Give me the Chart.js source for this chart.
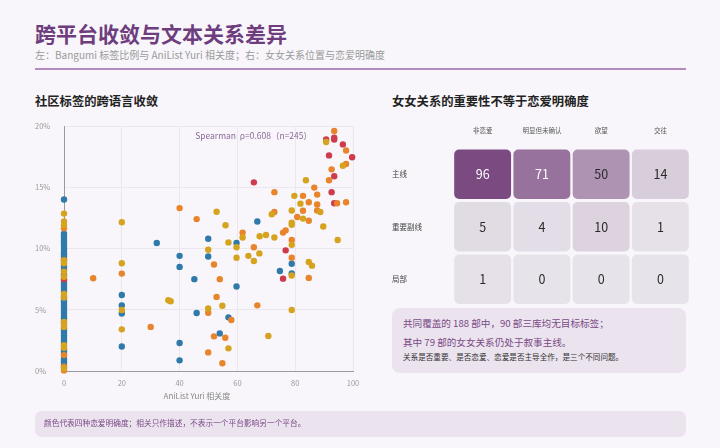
<!DOCTYPE html>
<html lang="zh">
<head>
<meta charset="utf-8">
<script src="https://cdn.jsdelivr.net/npm/chart.js@4.4.1/dist/chart.umd.min.js"></script>
<style>
  body { margin: 0; background: #f8f6fa; font-family: "Noto Sans CJK SC", "Noto Sans", sans-serif; }
  #page { position: relative; width: 720px; height: 448px; overflow: hidden; }
  .abs { position: absolute; white-space: nowrap; }
  #title { left: 35px; top: 20px; font-size: 21px; line-height: 26px; font-weight: 700; color: #6e3d7e; }
  #subtitle { left: 35px; top: 48px; font-size: 10px; line-height: 14px; color: #9a9a9a; }
  #rule { left: 35px; top: 68px; width: 651px; height: 1.5px; background: #b48cc0; }
  .section { top: 93px; font-size: 12.3px; line-height: 16px; font-weight: 700; color: #222; }
  #scatterBox { left: 30px; top: 118px; width: 340px; height: 292px; }
  #xTitle { left: 137px; top: 390px; width: 120px; text-align: center; font-size: 8px; line-height: 12px; color: #888; }
  #heatBox { left: 385px; top: 115px; width: 305px; height: 195px; }
  #note { left: 392px; top: 308px; width: 294px; height: 65px; background: #ebe3ee; border-radius: 8px; }
  #note div { position: absolute; left: 11px; white-space: nowrap; }
  #footer { left: 35px; top: 411px; width: 651px; height: 26px; background: #ebe3ee; border-radius: 7px; }
  #footer span { position: absolute; left: 9px; top: 6px; font-size: 7.7px; line-height: 12px; color: #7a4a86; }
</style>
</head>
<body>
<div id="page">
  <div id="title" class="abs">跨平台收敛与文本关系差异</div>
  <div id="subtitle" class="abs">左：Bangumi 标签比例与 AniList Yuri 相关度；右：女女关系位置与恋爱明确度</div>
  <div id="rule" class="abs"></div>
  <div class="abs section" style="left:35px">社区标签的跨语言收敛</div>
  <div class="abs section" style="left:392px">女女关系的重要性不等于恋爱明确度</div>
  <div id="scatterBox" class="abs"><canvas id="scatter"></canvas></div>
  <div id="xTitle" class="abs">AniList Yuri 相关度</div>
  <div id="heatBox" class="abs"><canvas id="heat"></canvas></div>
  <div id="note" class="abs">
    <div style="top:8px;font-size:9.6px;line-height:14px;color:#7a4a86">共同覆盖的 188 部中，90 部三库均无目标标签；</div>
    <div style="top:27px;font-size:9.6px;line-height:14px;color:#7a4a86">其中 79 部的女女关系仍处于叙事主线。</div>
    <div style="top:42.5px;font-size:7.6px;line-height:11px;color:#333">关系是否重要、是否恋爱、恋爱是否主导全作，是三个不同问题。</div>
  </div>
  <div id="footer" class="abs"><span>颜色代表四种恋爱明确度；相关只作描述，不表示一个平台影响另一个平台。</span></div>
</div>
<script>
// scatter: x = AniList Yuri relevance, y = Bangumi tag share (%)
let nonRomance = [
  [0,14.0],[0,11.2],[0,11.0],[0,10.8],[0,10.6],[0,10.4],[0,10.2],[0,10.0],[0,9.8],[0,9.6],[0,9.5],[0,9.3],[0,9.1],
  [0,8.6],[0,8.4],[0,8.2],[0,7.9],[0,7.7],[0,7.3],[0,7.1],[0,6.9],[0,6.7],[0,6.5],[0,6.1],[0,5.9],[0,5.7],[0,5.5],
  [0,5.3],[0,5.1],[0,4.9],[0,4.7],[0,4.5],[0,4.3],[0,4.1],[0,3.9],[0,3.5],[0,3.3],[0,3.1],[0,2.9],[0,2.7],[0,2.5],
  [0,2.3],[0,1.8],[0,1.6],[0,1.4],[0,1.0],[0,0.8],[0,0.6],[0,0.3],
  [66.9,12.2],[49.9,10.8],[59.7,10.45],[32.1,10.45],[40,9.4],[49.9,9.35],[40,8.5],[45.1,7.5],[59.7,6.9],
  [20,6.2],[20,5.36],[20,4.7],[45.9,4.73],[56.9,4.38],[53.9,3.07],[20,2.0],[40,2.28],[40,0.87],
  [78.8,8.76],[74.7,8.16],[78.8,7.96]
];
let obvious = [
  [0,12.85],[0,12.2],[0,11.9],[0,9.0],[0,8.8],[0,8.1],[0,7.7],[0,6.3],[0,6.0],[0,4.0],[0,3.7],[0,3.6],
  [0,2.1],[0,2.0],[0,1.9],[0,0.2],
  [20,12.14],[52.8,13.0],[55.9,11.9],[61.8,10.9],[67.7,11.0],[69.9,11.1],[56.9,10.5],[59.7,10.1],[49.9,9.9],
  [63.8,9.4],[67.6,9.6],[59.7,9.25],[65.7,8.98],[20,8.8],[36.1,5.77],[36.9,5.69],[54.8,5.33],[20,4.98],
  [49.9,5.1],[20,3.4],[56.9,1.85],[83.7,15.57],[79.7,14.3],[81.8,13.66],[78.8,13.1],[88.7,12.98],[71.9,12.8],
  [82.7,12.44],[78.8,11.94],[78.8,12.1],[89.7,11.8],[72.8,10.9],[78.8,10.3],[94.7,10.7],[84.7,8.9],[85.8,8.6],
  [78.8,7.8],[78.8,4.98],[70.7,2.86],[90.7,18.7],[96.5,16.76]
];
let desire = [
  [0,11.65],[0,9.05],[0,8.9],[0,1.3],[0,0.35],[0,0.05],
  [40,13.3],[45.9,12.4],[61.8,11.3],[65.7,10.1],[51.9,8.7],[20,7.95],[53.9,7.5],[52.8,6.05],[66.9,5.36],
  [49.9,4.76],[57.9,4.16],[30,3.6],[51.9,2.83],[55.8,2.72],[49.9,1.52],[54.8,0.63],[10.1,7.57],[93.5,19.6],
  [97.6,18.0],[97.6,16.9],[92.6,16.46],[91.7,15.57],[86.6,14.97],[72.8,14.6],[82.7,14.3],[87.6,14.4],
  [84.7,13.77],[87.6,13.6],[94.5,13.7],[97.6,13.77],[82.7,13.08],[87.6,13.1],[72.8,12.98],[80.7,12.57],
  [84.7,12.27],[76.7,11.48],[75.8,11.3],[78.8,10.7],[78.8,9.25],[84.7,7.6]
];
let dating = [
  [0,7.5],[65.7,15.4],[90.7,18.9],[93.5,19.05],[93.5,18.9],[96.5,18.5],[99.7,17.45],[91.7,17.6],
  [93.5,15.9],[92.6,14.6],[93.5,13.7],[76.7,9.85],[75.8,7.54]
];
let yTicks = [0, 5, 10, 15, 20];

// heatmap
let rowLabels = ["主线", "重要副线", "局部"];
let colLabels = ["非恋爱", "明显但未确认", "欲望", "交往"];
let counts = [
  [96, 71, 50, 14],
  [5, 4, 10, 1],
  [1, 0, 0, 0],
];

const cjk = '"Noto Sans CJK SC", "Noto Sans", sans-serif';
Chart.defaults.font.family = cjk;

const toPoints = (arr) => arr.map((p) => ({ x: p[0], y: p[1] }));

function dotSet(label, arr, color) {
  return {
    label: label,
    data: toPoints(arr),
    backgroundColor: color,
    borderWidth: 0,
    pointRadius: 3.2,
    clip: false,
  };
}

const spearmanNote = {
  id: "spearmanNote",
  afterDraw(chart) {
    const { ctx, chartArea } = chart;
    ctx.save();
    ctx.font = "8.5px " + cjk;
    ctx.fillStyle = "#8b6a98";
    ctx.textAlign = "right";
    ctx.textBaseline = "middle";
    ctx.fillText("Spearman  ρ=0.608（n=245）", chartArea.right - 41, chartArea.top + 10);
    ctx.restore();
  },
};

new Chart(document.querySelector("#scatter"), {
  type: "scatter",
  data: {
    datasets: [
      dotSet("明显但未确认", obvious, "#d6a31f"),
      dotSet("欲望", desire, "#e8842b"),
      dotSet("交往", dating, "#cd3b4d"),
      dotSet("非恋爱", nonRomance, "#2f7aaa"),
    ],
  },
  options: {
    responsive: true,
    maintainAspectRatio: false,
    animation: false,
    layout: { padding: { left: 5, right: 17, top: 8, bottom: 0 } },
    scales: {
      x: {
        type: "linear",
        min: 0,
        max: 100,
        ticks: { stepSize: 20, color: "#999", font: { size: 7.5 }, padding: 8 },
        grid: { color: "#ebe7ef", drawTicks: false },
        border: { color: "#9a9a9a" },
        afterFit: (scale) => { scale.height = 39; },
      },
      y: {
        min: 0,
        max: 20,
        afterBuildTicks: (scale) => { scale.ticks = yTicks.map((v) => ({ value: v })); },
        ticks: {
          color: "#999",
          font: { size: 7.5 },
          crossAlign: "far",
          padding: 0,
          callback: (v) => v + "%",
        },
        grid: { color: "#ebe7ef", drawTicks: false },
        border: { color: "#9a9a9a" },
        afterFit: (scale) => { scale.width = 29; },
      },
    },
    plugins: {
      legend: { display: false },
      tooltip: { enabled: false },
    },
  },
  plugins: [spearmanNote],
});

// cell colour from count, light lavender -> deep purple
function cellColor(v) {
  const t = v / 96;
  const a = [231, 227, 234];
  const b = [122, 74, 128];
  const c = a.map((x, i) => Math.round(x + (b[i] - x) * t));
  return "rgb(" + c.join(",") + ")";
}

const cellText = {
  id: "cellText",
  afterDatasetsDraw(chart) {
    const ctx = chart.ctx;
    ctx.save();
    ctx.font = "12.5px " + cjk;
    ctx.textAlign = "center";
    ctx.textBaseline = "middle";
    chart.data.datasets.forEach((ds, r) => {
      chart.getDatasetMeta(r).data.forEach((bar, c) => {
        const v = counts[r][c];
        ctx.fillStyle = v > 60 ? "#ffffff" : "#2a2a2a";
        ctx.fillText(String(v), bar.x, (bar.y + bar.base) / 2);
      });
    });
    ctx.restore();
  },
};

new Chart(document.querySelector("#heat"), {
  type: "bar",
  data: {
    labels: colLabels,
    datasets: counts.map((row, r) => ({
      label: rowLabels[r],
      data: row.map(() => [r + 0.03, r + 0.97]),
      backgroundColor: row.map(cellColor),
      borderRadius: 5,
      borderSkipped: false,
      grouped: false,
      barPercentage: 0.96,
      categoryPercentage: 1,
    })),
  },
  options: {
    responsive: true,
    maintainAspectRatio: false,
    animation: false,
    layout: { padding: { left: 7, right: 0, top: 0, bottom: 0 } },
    scales: {
      x: {
        position: "top",
        grid: { display: false, drawTicks: false },
        border: { display: false },
        ticks: { color: "#555", font: { size: 6.5 }, padding: 14 },
        afterFit: (scale) => { scale.height = 33; },
      },
      y: {
        min: 0,
        max: 3,
        reverse: true,
        afterBuildTicks: (scale) => { scale.ticks = rowLabels.map((_, i) => ({ value: i + 0.5 })); },
        ticks: {
          color: "#444",
          font: { size: 7.5 },
          crossAlign: "far",
          padding: 0,
          callback: (v, i) => rowLabels[i],
        },
        grid: { display: false, drawTicks: false },
        border: { display: false },
        afterFit: (scale) => { scale.width = 61; },
      },
    },
    plugins: {
      legend: { display: false },
      tooltip: { enabled: false },
    },
  },
  plugins: [cellText],
});
</script>
</body>
</html>
